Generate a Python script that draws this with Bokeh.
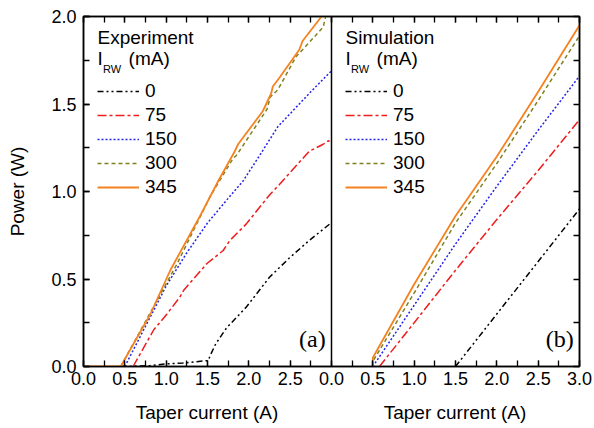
from bokeh.plotting import figure
from bokeh.layouts import column
from bokeh.models import (Range1d, LinearAxis, FixedTicker, Legend, LegendItem,
                          Label, Span, PrintfTickFormatter, Div)
from bokeh.embed import file_html
from bokeh.resources import INLINE

# ---------------- data ----------------
irw_labels = ["0", "75", "150", "300", "345"]
x_title = "Taper current (A)"
y_title = "Power (W)"

# Experiment (panel a): taper current (A), power (W)
exp_current_0 = [0.45, 0.8, 1.0, 1.2, 1.51, 1.53, 1.6, 1.73, 1.97, 2.25, 2.49, 2.73, 2.98, 3.0]
exp_power_0 = [0.0, 0.005, 0.015, 0.02, 0.034, 0.06, 0.13, 0.22, 0.34, 0.51, 0.62, 0.72, 0.815, 0.82]

exp_current_75 = [0.6, 0.85, 1.01, 1.17, 1.21, 1.33, 1.49, 1.69, 1.77, 1.97, 2.25, 2.37, 2.73, 2.9, 2.96, 3.0]
exp_power_75 = [0.0, 0.21, 0.30, 0.40, 0.434, 0.50, 0.587, 0.663, 0.72, 0.815, 0.98, 1.04, 1.23, 1.27, 1.29, 1.28]

exp_current_150 = [0.5, 0.75, 1.0, 1.25, 1.5, 1.73, 1.93, 2.15, 2.35, 2.49, 2.75, 3.0]
exp_power_150 = [0.0, 0.23, 0.46, 0.65, 0.82, 0.95, 1.06, 1.22, 1.37, 1.44, 1.57, 1.69]

exp_current_300 = [0.45, 0.73, 1.13, 1.53, 1.81, 1.85, 2.15, 2.22, 2.26, 2.35, 2.57, 2.65, 2.9, 2.93]
exp_power_300 = [0.0, 0.24, 0.585, 0.97, 1.19, 1.206, 1.42, 1.47, 1.54, 1.58, 1.77, 1.81, 1.94, 2.0]

exp_current_345 = [0.0, 0.45, 0.81, 1.05, 1.41, 1.63, 1.83, 1.87, 2.17, 2.27, 2.29, 2.37, 2.61, 2.65, 2.88]
exp_power_345 = [0.0, 0.0, 0.30, 0.55, 0.86, 1.06, 1.23, 1.27, 1.46, 1.56, 1.60, 1.65, 1.81, 1.86, 2.0]

# Simulation (panel b)
sim_current_0 = [1.5, 2.0, 2.5, 3.0]
sim_power_0 = [0.0, 0.30, 0.60, 0.90]

sim_current_75 = [0.58, 1.0, 1.5, 2.0, 2.5, 3.0]
sim_power_75 = [0.0, 0.25, 0.55, 0.84, 1.12, 1.41]

sim_current_150 = [0.5, 1.0, 1.5, 2.0, 2.5, 3.0]
sim_power_150 = [0.0, 0.35, 0.70, 1.03, 1.35, 1.66]

sim_current_300 = [0.5, 0.5, 1.0, 1.5, 2.0, 2.5, 3.0]
sim_power_300 = [0.0, 0.03, 0.42, 0.82, 1.16, 1.52, 1.89]

sim_current_345 = [0.5, 0.5, 1.0, 1.5, 2.0, 2.5, 3.0]
sim_power_345 = [0.0, 0.05, 0.47, 0.86, 1.20, 1.57, 1.95]

# axis ticks
y_ticks = [0.0, 0.5, 1.0, 1.5, 2.0]
exp_x_ticks = [0.0, 0.5, 1.0, 1.5, 2.0, 2.5]
sim_x_ticks = [0.0, 0.5, 1.0, 1.5, 2.0, 2.5, 3.0]
panel_span = 3.0

# ---------------- style ----------------
colors = ["#000000", "#ee1c1c", "#2424e8", "#808020", "#f58220"]
dashes = ["6 3 2 3 2 3", "9 3 3 3", "2 2", "4 3", "solid"]
widths = [1.5, 1.5, 1.5, 1.5, 1.8]
FONT = "Liberation Sans"

p = figure(width=594, height=400, x_range=Range1d(0, 2 * panel_span),
           y_range=Range1d(0, 2.0), output_backend="svg", toolbar_location=None,
           min_border_left=83, min_border_right=15, min_border_top=16,
           min_border_bottom=34, margin=0)
p.extra_x_ranges = {"sim": Range1d(-panel_span, panel_span)}
p.xgrid.visible = False
p.ygrid.visible = False
p.outline_line_color = "black"
p.outline_line_width = 1.5
p.background_fill_color = "white"
p.border_fill_color = "white"

# x tick positions/labels for the joined bottom axis
xt_pos = list(exp_x_ticks) + [t + panel_span for t in sim_x_ticks]
xt_lab = {}
for t in exp_x_ticks:
    xt_lab[t] = f"{t:.1f}"
for t in sim_x_ticks:
    xt_lab[t + panel_span] = f"{t:.1f}"
x_minor = [i * 0.25 for i in range(25)]
y_minor = [i * 0.25 for i in range(9)]


def style_axis(ax, labels=True):
    ax.axis_line_color = "black"
    ax.axis_line_width = 1.5
    ax.major_tick_line_color = "black"
    ax.minor_tick_line_color = "black"
    ax.major_tick_line_width = 1.3
    ax.minor_tick_line_width = 1.3
    ax.major_tick_in = 6
    ax.major_tick_out = 0
    ax.minor_tick_in = 6
    ax.minor_tick_out = 0
    ax.major_label_text_font = FONT
    ax.major_label_text_color = "black"
    ax.major_label_text_font_size = "18px"
    if not labels:
        ax.major_label_text_alpha = 0
        ax.major_label_text_font_size = "1px"
    ax.axis_label_text_font = FONT
    ax.axis_label_text_font_size = "19px"
    ax.axis_label_text_font_style = "normal"
    ax.axis_label_text_color = "black"


xb = p.xaxis[0]
xb.ticker = FixedTicker(ticks=xt_pos, minor_ticks=x_minor)
xb.major_label_overrides = xt_lab
style_axis(xb)
xb.major_label_standoff = 5

xa = LinearAxis(ticker=FixedTicker(ticks=xt_pos, minor_ticks=x_minor))
style_axis(xa, labels=False)
xa.major_label_standoff = 0
p.add_layout(xa, "above")

yl = p.yaxis[0]
yl.ticker = FixedTicker(ticks=y_ticks, minor_ticks=y_minor)
yl.formatter = PrintfTickFormatter(format="%.1f")
style_axis(yl)
yl.major_label_standoff = 7
yl.axis_label = y_title
yl.axis_label_standoff = 20

yr = LinearAxis(ticker=FixedTicker(ticks=y_minor, minor_ticks=[]))
style_axis(yr, labels=False)
yr.major_label_standoff = 0
p.add_layout(yr, "right")

# divider between the panels
p.add_layout(Span(location=panel_span, dimension="height", line_color="black",
                  line_width=1.5))

exp_series = [(exp_current_0, exp_power_0), (exp_current_75, exp_power_75),
              (exp_current_150, exp_power_150), (exp_current_300, exp_power_300),
              (exp_current_345, exp_power_345)]
sim_series = [(sim_current_0, sim_power_0), (sim_current_75, sim_power_75),
              (sim_current_150, sim_power_150), (sim_current_300, sim_power_300),
              (sim_current_345, sim_power_345)]

exp_items, sim_items = [], []
for i, (xs, ys) in enumerate(exp_series):
    r = p.line(xs, ys, line_color=colors[i], line_width=widths[i], line_dash=dashes[i])
    exp_items.append(LegendItem(label=irw_labels[i], renderers=[r]))
for i, (xs, ys) in enumerate(sim_series):
    r = p.line(xs, ys, line_color=colors[i], line_width=widths[i], line_dash=dashes[i],
               x_range_name="sim")
    sim_items.append(LegendItem(label=irw_labels[i], renderers=[r]))


def make_legend(items, loc):
    lg = Legend(items=items, location=loc, padding=0, margin=0, spacing=2,
                glyph_width=42, glyph_height=20, label_height=20,
                label_standoff=6, border_line_color=None,
                background_fill_alpha=0, label_text_font=FONT,
                label_text_font_size="19px", label_text_color="black")
    return lg


p.add_layout(make_legend(exp_items, (14, 168)))
p.add_layout(make_legend(sim_items, (262, 168)))


def add_label(text, x, y, size="19px", rng="default", font=FONT, align="left",
              baseline="alphabetic"):
    kw = dict(x=x, y=y, text=text, text_font=font, text_font_size=size,
              text_color="black", text_align=align, text_baseline=baseline)
    if rng != "default":
        kw["x_range_name"] = rng
    p.add_layout(Label(**kw))


for title, rng in (("Experiment", "default"), ("Simulation", "sim")):
    add_label(title, 0.17, 1.878, rng=rng)
    add_label("I", 0.17, 1.762, rng=rng)
    add_label("RW", 0.236, 1.699, size="11px", rng=rng)
    add_label("(mA)", 0.545, 1.762, rng=rng)

add_label("(a)", 2.93, 0.16, size="24px", font="Liberation Serif", align="right",
          baseline="middle")
add_label("(b)", 2.93, 0.16, size="24px", font="Liberation Serif", align="right",
          baseline="middle", rng="sim")

span_style = ("position:absolute;top:0;width:248px;text-align:center;"
              "line-height:26px;font-family:'Liberation Sans';font-size:19px;color:black;")
div = Div(text=(f'<div style="position:relative;width:594px;height:28px;">'
                f'<span style="{span_style}left:83px;">{x_title}</span>'
                f'<span style="{span_style}left:331px;">{x_title}</span></div>'),
          width=594, height=28, margin=0)

layout = column(p, div, spacing=0)
open("out.html", "w").write(file_html(layout, INLINE))
